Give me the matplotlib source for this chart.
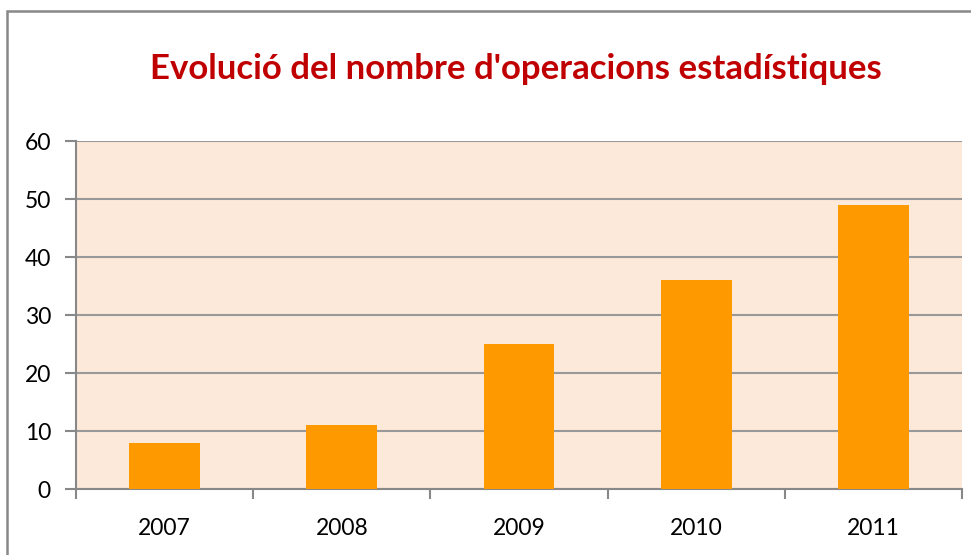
import matplotlib
matplotlib.use("Agg")
import matplotlib.pyplot as plt
import numpy as np
from matplotlib.patches import Rectangle

YEARS = ["2007", "2008", "2009", "2010", "2011"]
OPERATIONS = [8, 11, 25, 36, 49]
Y_TICKS = [0, 10, 20, 30, 40, 50, 60]

PEACH = "#FDE9D9"
ORANGE = "#FF9900"
DARK_RED = "#C00000"
GRID_GRAY = "#999999"

plt.rcParams["font.family"] = ["Lato", "DejaVu Sans"]

fig = plt.figure(figsize=(9.71, 5.55), dpi=100)
fig.patch.set_facecolor("white")

# outer chart border (cut off at right and bottom)
fig.patches.append(Rectangle((7 / 971, -0.05), 1.05, 1.05 - 11 / 555,
                             transform=fig.transFigure, fill=False,
                             edgecolor="#888888", linewidth=1.8))

ax = fig.add_axes([76 / 971, 66 / 555, 886 / 971, 348 / 555])
ax.set_facecolor(PEACH)

x = np.arange(len(YEARS))
ax.bar(x, OPERATIONS, width=0.4, color=ORANGE, zorder=3)

ax.set_xlim(-0.5, len(YEARS) - 0.5)
ax.set_ylim(0, 60)
ax.set_yticks(Y_TICKS)
ax.yaxis.grid(True, color=GRID_GRAY, linewidth=1.5, zorder=1)
ax.set_axisbelow(True)

ax.set_xticks(x)
ax.set_xticklabels(YEARS, fontsize=16.5)
ax.set_xticks(np.arange(-0.5, len(YEARS)), minor=True)
ax.tick_params(axis="x", which="major", length=0, pad=21)
ax.tick_params(axis="x", which="minor", length=7, width=1.5, color="#888888", direction="out")
ax.tick_params(axis="y", labelsize=16.5, length=8, width=1.5, color="#888888", pad=10)

for side in ["top", "right"]:
    ax.spines[side].set_visible(False)
for side in ["left", "bottom"]:
    ax.spines[side].set_color("#888888")
    ax.spines[side].set_linewidth(1.5)

fig.text(0.531, 1 - 69 / 555, "Evolució del nombre d'operacions estadístiques",
         ha="center", va="center", fontsize=25, fontweight="bold", color=DARK_RED)

fig.savefig("out.png", dpi=100, facecolor="white")
